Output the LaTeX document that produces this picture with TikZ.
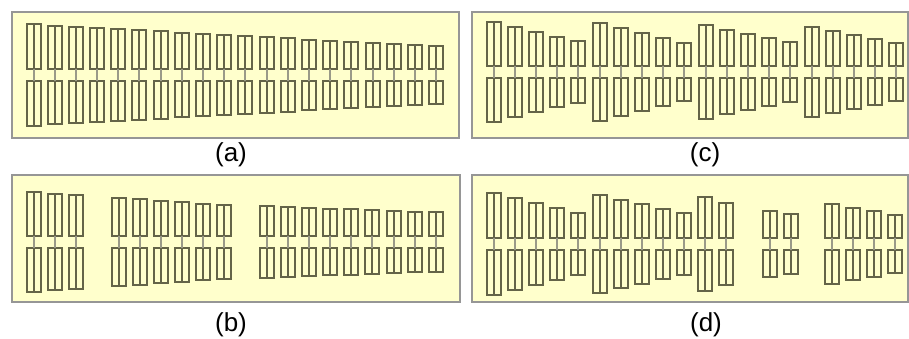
\documentclass[tikz,border=0pt]{standalone}
\usepackage{fontspec}
\setmainfont{Liberation Sans}
\usetikzlibrary{positioning}
\definecolor{padyellow}{RGB}{255,255,204}
\definecolor{padedge}{RGB}{150,150,150}
\definecolor{finolive}{RGB}{100,100,72}
\tikzset{
  panel/.style  = {draw=padedge, fill=padyellow, line width=1.5pt, inner sep=0pt,
                   anchor=north west},
  fing/.style   = {draw=finolive, line width=2pt, inner sep=0pt, outer sep=0pt,
                   minimum width=14pt},
  spine/.style  = {draw=finolive, line width=1.8pt},
  link/.style   = {draw=finolive!65, line width=1.1pt},
  caplab/.style = {font=\fontsize{26}{30}\selectfont, inner sep=0pt, anchor=base},
}
% #1 tag, #2 centre line, #3 groups as x0/count/first half height/last half height
\newcommand{\fingrow}[3]{%
  \foreach \xs/\nn/\ha/\hb [count=\g] in {#3} {
    \foreach \j in {1,...,\nn} {
      \pgfmathsetmacro\xx{round(\xs+21.2*(\j-1))}
      \pgfmathsetmacro\hh{round(\ha+(\hb-\ha)*(\j-1)/(\nn-1))}
      \pgfmathsetmacro\ll{\hh-6}
      \node[fing, minimum height=\ll pt] (#1-\g-\j-t) at ({\xx},{#2-6-\ll/2}) {};
      \node[fing, minimum height=\ll pt] (#1-\g-\j-b) at ({\xx},{#2+6+\ll/2}) {};
      \draw[spine] (#1-\g-\j-t.north) -- (#1-\g-\j-t.south);
      \draw[spine] (#1-\g-\j-b.north) -- (#1-\g-\j-b.south);
      \draw[link]  (#1-\g-\j-t.south) -- (#1-\g-\j-b.north);
    }
  }
}

\begin{document}
\begin{tikzpicture}[x=1pt, y=-1pt]
\useasboundingbox (0,0) rectangle (909,338);

% panels
\node[panel, minimum width=447pt, minimum height=126pt] (pana) at (11,11) {};
\node[panel, minimum width=448pt, minimum height=127pt] (panb) at (11,174) {};
\node[panel, minimum width=436pt, minimum height=126pt] (panc) at (471,11) {};
\node[panel, minimum width=436pt, minimum height=127pt] (pand) at (471,174) {};

% fingers
\fingrow{a}{74.5}{33.5/20/50.5/28.5}
\fingrow{b}{242}{33.5/3/50/46.5, 118.5/6/44/37, 266.5/9/35.5/29.5}
\fingrow{c}{72}{493.5/5/50/30.5, 599.5/5/49/29, 705.5/5/46.5/29.5, 811.5/5/45/28.5}
\fingrow{d}{243.5}{493.5/5/50.5/30.5, 599.5/5/48.5/30.5, 704.5/2/46.5/41,
                   769.5/2/33/30, 831.5/4/39.5/29}

% captions
\node[caplab] (capa) at (231,161) {(a)};
\node[caplab] (capc) at (705,161) {(c)};
\node[caplab] (capb) at (231,331) {(b)};
\node[caplab] (capd) at (706,331) {(d)};
\end{tikzpicture}
\end{document}
